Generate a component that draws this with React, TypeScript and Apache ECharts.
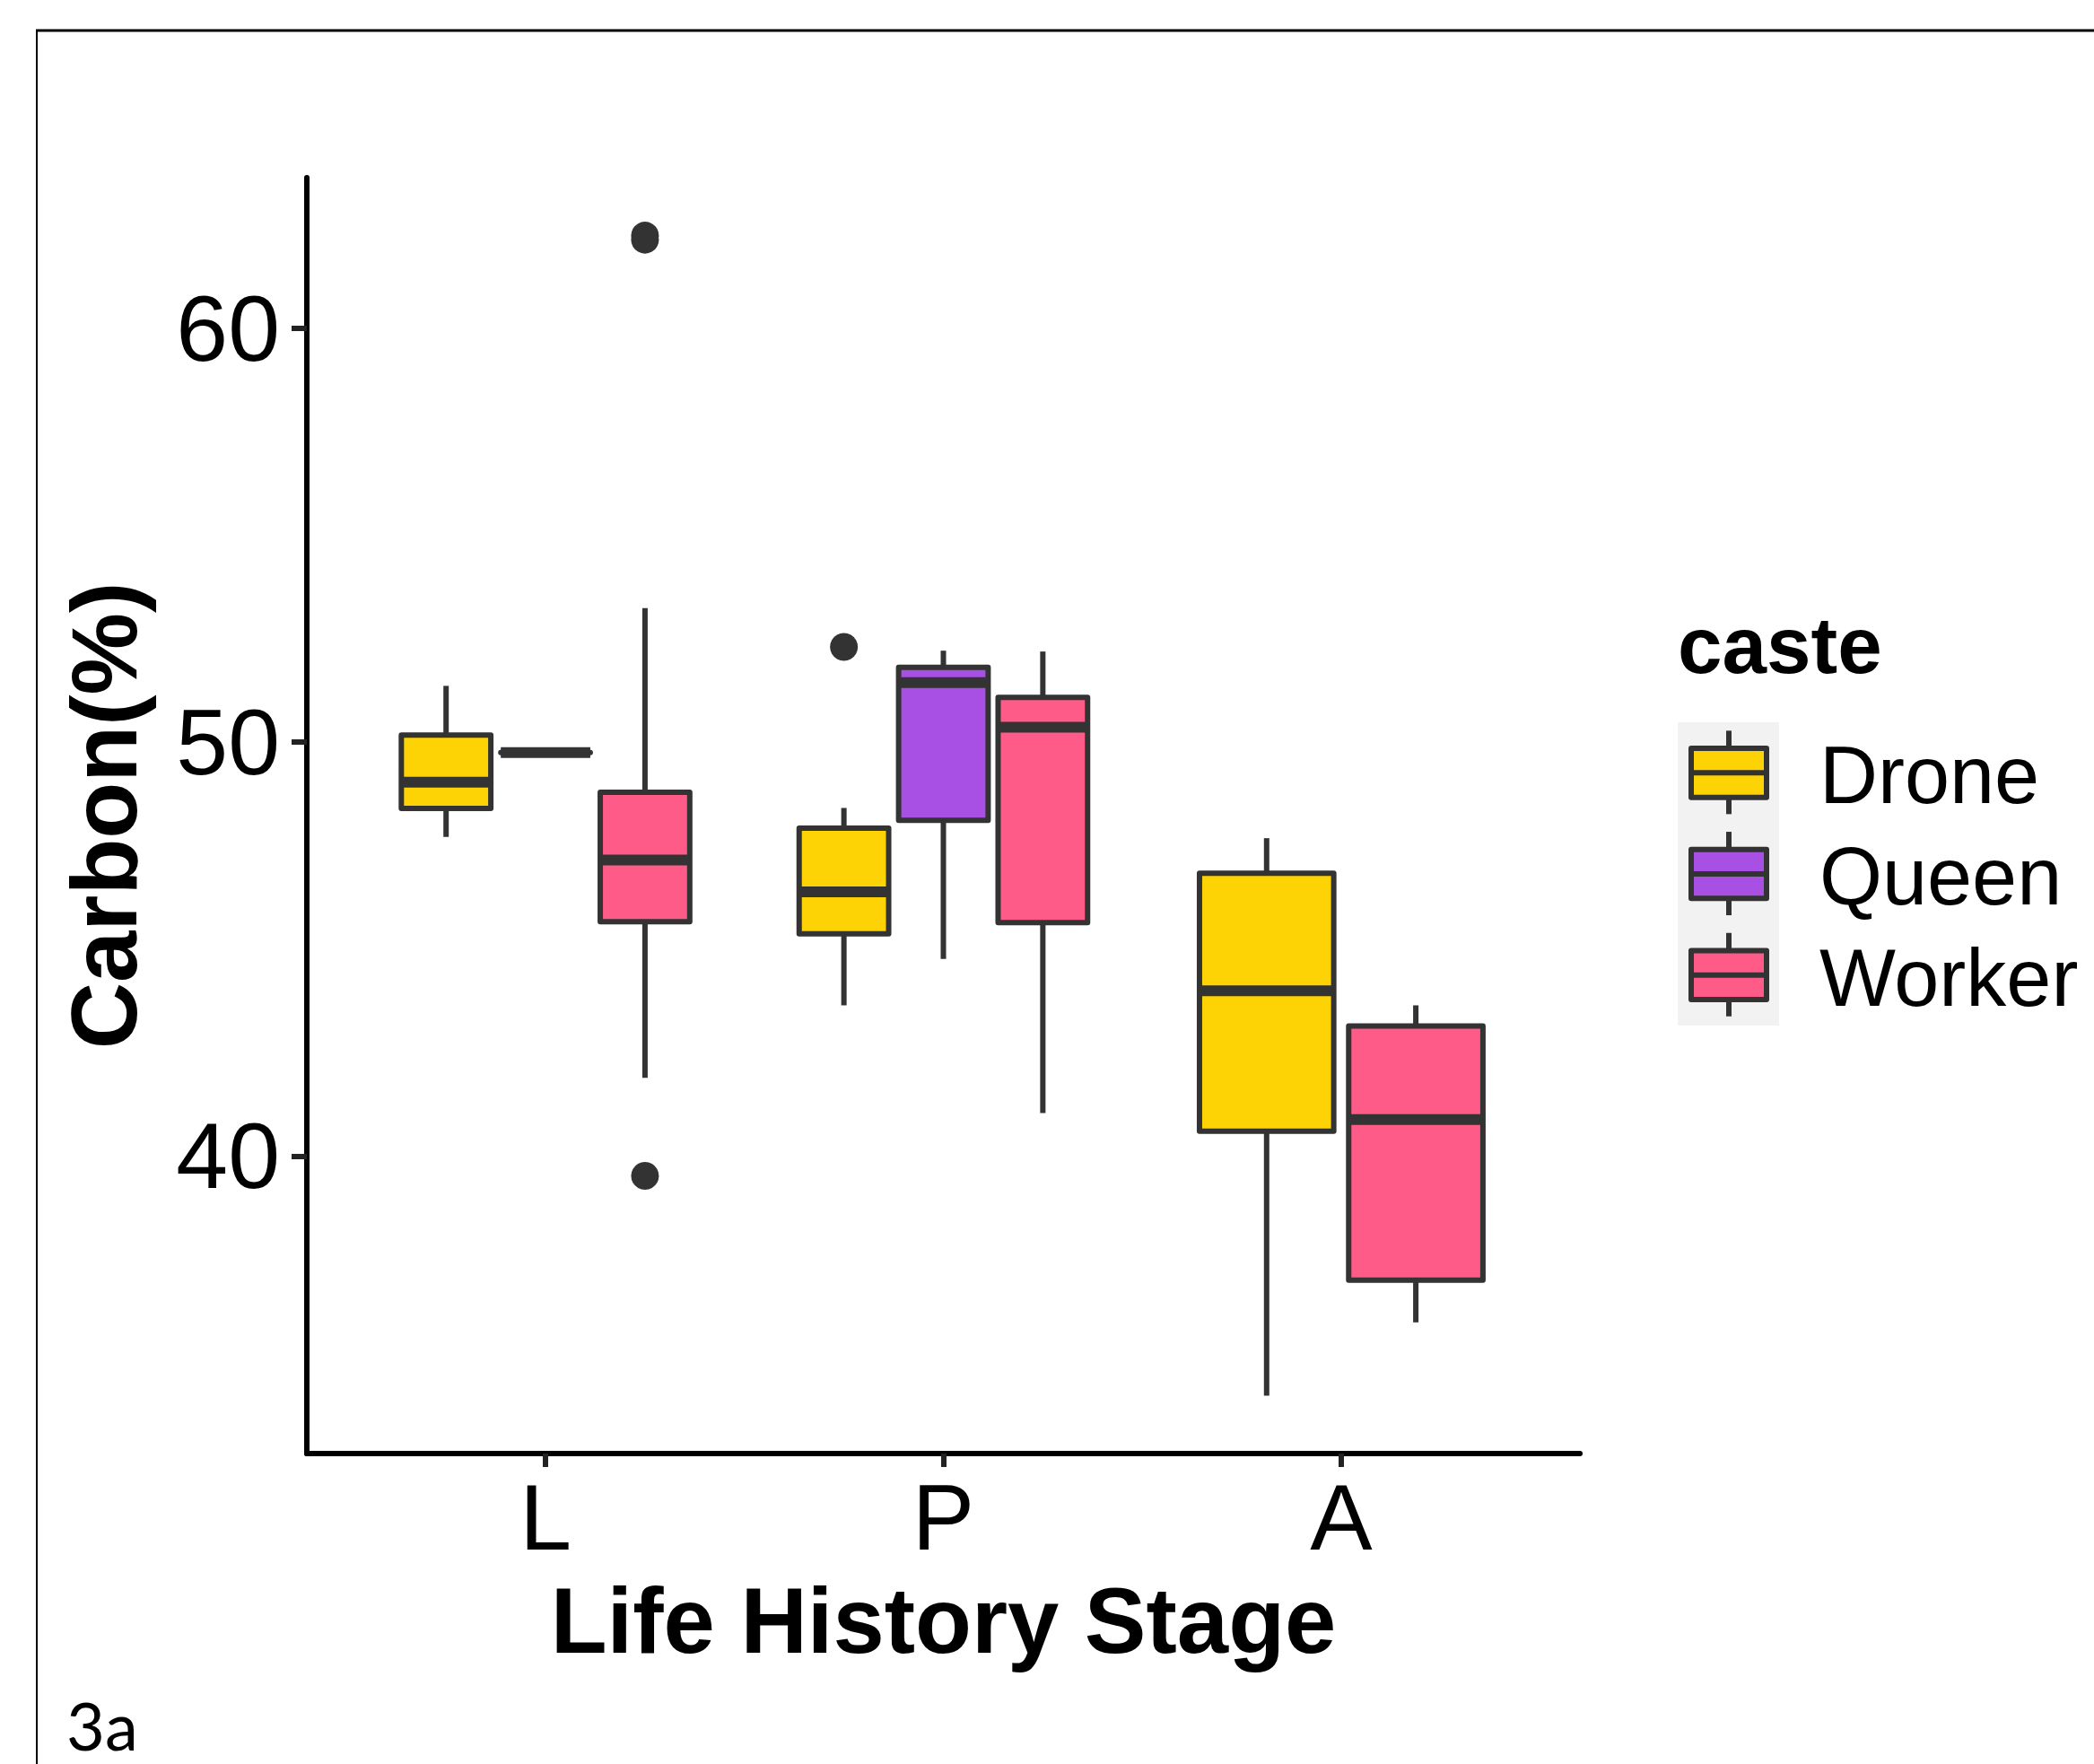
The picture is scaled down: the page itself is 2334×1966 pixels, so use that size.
import React, { useEffect, useRef } from 'react';
import * as echarts from 'echarts';

// ---- data ----
const stages = ['L', 'P', 'A'];
const castes = ['Drone', 'Queen', 'Worker'];
const casteColors = ['#FDD306', '#A750E3', '#FE5B89'];

// [min(whisker), Q1, median, Q3, max(whisker)] per stage; null = no data
const droneStats = [
  [47.71, 48.40, 49.03, 50.17, 51.36],
  [43.64, 45.37, 46.38, 47.92, 48.41],
  [34.21, 40.60, 43.99, 46.83, 47.68],
];
const queenStats = [
  [49.75, 49.75, 49.75, 49.75, 49.75],
  [44.76, 48.11, 51.44, 51.81, 52.21],
  null,
];
const workerStats = [
  [41.89, 45.66, 47.15, 48.79, 53.24],
  [41.04, 45.64, 50.36, 51.08, 52.19],
  [35.98, 37.00, 40.88, 43.14, 43.64],
];

const droneOutliers = [[], [52.3], []];
const queenOutliers = [[], [], []];
const workerOutliers = [[62.24, 62.14, 39.52], [], []];

const yTickValues = [40, 50, 60];
const xTickValues = [1, 2, 3];
const yMin = 32.81;
const yMax = 63.64;

const statsByCaste = [droneStats, queenStats, workerStats];
const outliersByCaste = [droneOutliers, queenOutliers, workerOutliers];

// ---- layout / style ----
const FONT = '"Liberation Sans", Arial, Helvetica, sans-serif';
const LINE = '#333333';
const DODGE = 0.75;
const BOX_FRAC = 0.9;

function position(stageIdx: number, casteIdx: number) {
  const present = castes
    .map((_, c) => c)
    .filter((c) => statsByCaste[c][stageIdx] != null);
  const n = present.length;
  const k = present.indexOf(casteIdx);
  const slot = DODGE / n;
  return { x: stageIdx + 1 + (k - (n - 1) / 2) * slot, w: slot * BOX_FRAC };
}

function buildOption() {
  const boxSeries = castes.map((caste, ci) => {
    const color = casteColors[ci];
    const data: number[][] = [];
    statsByCaste[ci].forEach((st, si) => {
      if (!st) return;
      const p = position(si, ci);
      data.push([p.x, st[0], st[1], st[2], st[3], st[4], p.w]);
    });
    return {
      type: 'custom',
      name: caste,
      z: 2,
      itemStyle: { color },
      encode: { x: 0, y: [1, 2, 3, 4, 5] },
      data,
      renderItem: (params: any, api: any) => {
        const x = api.value(0);
        const w = api.value(6);
        const pMin = api.coord([x, api.value(1)]);
        const pQ1 = api.coord([x, api.value(2)]);
        const pMed = api.coord([x, api.value(3)]);
        const pQ3 = api.coord([x, api.value(4)]);
        const pMax = api.coord([x, api.value(5)]);
        const cx = pMed[0];
        const half = api.size([w, 0])[0] / 2;
        return {
          type: 'group',
          children: [
            {
              type: 'line',
              shape: { x1: cx, y1: pQ3[1], x2: cx, y2: pMax[1] },
              style: { stroke: LINE, lineWidth: 6 },
            },
            {
              type: 'line',
              shape: { x1: cx, y1: pQ1[1], x2: cx, y2: pMin[1] },
              style: { stroke: LINE, lineWidth: 6 },
            },
            {
              type: 'rect',
              shape: { x: cx - half, y: pQ3[1], width: half * 2, height: pQ1[1] - pQ3[1] },
              style: { fill: color, stroke: LINE, lineWidth: 6, lineJoin: 'round' },
            },
            {
              type: 'line',
              shape: { x1: cx - half, y1: pMed[1], x2: cx + half, y2: pMed[1] },
              style: { stroke: LINE, lineWidth: 12 },
            },
          ],
        };
      },
    };
  });

  const outlierData: number[][] = [];
  outliersByCaste.forEach((perStage, ci) => {
    perStage.forEach((vals, si) => {
      if (!vals.length) return;
      const p = position(si, ci);
      vals.forEach((v) => outlierData.push([p.x, v]));
    });
  });

  const outlierSeries = {
    type: 'scatter',
    name: 'outliers',
    z: 3,
    symbol: 'circle',
    symbolSize: 31,
    itemStyle: { color: LINE, opacity: 1 },
    data: outlierData,
  };

  // legend (ggplot style keys) built as graphic elements
  const keyTop = 805;
  const keyH = 112.7;
  const legendEls: any[] = [
    {
      type: 'rect',
      shape: { x: 1870, y: keyTop, width: 113, height: keyH * castes.length },
      style: { fill: '#F2F2F2' },
      silent: true,
    },
    {
      type: 'text',
      x: 1870,
      y: 719,
      style: {
        text: 'caste',
        font: `bold 89px ${FONT}`,
        fill: '#000',
        align: 'left',
        verticalAlign: 'middle',
      },
    },
  ];
  castes.forEach((caste, i) => {
    const cy = keyTop + keyH * (i + 0.5);
    legendEls.push(
      {
        type: 'line',
        shape: { x1: 1927, y1: cy - 47, x2: 1927, y2: cy + 46 },
        style: { stroke: LINE, lineWidth: 6 },
      },
      {
        type: 'rect',
        shape: { x: 1885, y: cy - 27.3, width: 84, height: 54.6 },
        style: { fill: casteColors[i], stroke: LINE, lineWidth: 6, lineJoin: 'round' },
      },
      {
        type: 'line',
        shape: { x1: 1885, y1: cy, x2: 1969, y2: cy },
        style: { stroke: LINE, lineWidth: 6 },
      },
      {
        type: 'text',
        x: 2028,
        y: cy + 3,
        style: {
          text: caste,
          font: `90px ${FONT}`,
          fill: '#000',
          align: 'left',
          verticalAlign: 'middle',
        },
      }
    );
  });

  const frameEls = [
    { type: 'line', shape: { x1: 40, y1: 34, x2: 2334, y2: 34 }, style: { stroke: '#000', lineWidth: 3 } },
    { type: 'line', shape: { x1: 41, y1: 33, x2: 41, y2: 1966 }, style: { stroke: '#000', lineWidth: 2 } },
    {
      type: 'text',
      x: 74,
      y: 1922,
      style: {
        text: '3a',
        font: '74px Lato, "Open Sans", sans-serif',
        lineHeight: 74,
        fill: '#000',
        align: 'left',
        verticalAlign: 'middle',
      },
    },
  ];

  return {
    animation: false,
    backgroundColor: '#ffffff',
    grid: {
      left: 342,
      top: 198,
      width: 1419,
      height: 1422,
      containLabel: false,
      outerBoundsMode: 'none',
    },
    xAxis: {
      type: 'value',
      min: 0.4,
      max: 3.6,
      name: 'Life History Stage',
      nameLocation: 'middle',
      nameGap: 135,
      nameMoveOverlap: false,
      nameTextStyle: { fontFamily: FONT, fontSize: 103, fontWeight: 'bold', color: '#000' },
      axisLine: { show: true, onZero: false, lineStyle: { color: '#000', width: 6 } },
      axisTick: { show: true, customValues: xTickValues, length: 15, lineStyle: { color: '#222', width: 6 } },
      axisLabel: {
        customValues: xTickValues,
        formatter: (v: number) => stages[Math.round(v) - 1] ?? '',
        margin: 19,
        fontSize: 104,
        fontFamily: FONT,
        color: '#000',
      },
      splitLine: { show: false },
    },
    yAxis: {
      type: 'value',
      min: yMin,
      max: yMax,
      name: 'Carbon(%)',
      nameLocation: 'middle',
      nameGap: 174,
      nameMoveOverlap: false,
      nameTextStyle: { fontFamily: FONT, fontSize: 103, fontWeight: 'bold', color: '#000' },
      axisLine: { show: true, onZero: false, lineStyle: { color: '#000', width: 6 } },
      axisTick: { show: true, customValues: yTickValues, length: 17, lineStyle: { color: '#222', width: 6 } },
      axisLabel: {
        customValues: yTickValues,
        margin: 30,
        fontSize: 104,
        fontFamily: FONT,
        color: '#000',
      },
      splitLine: { show: false },
    },
    series: [...boxSeries, outlierSeries],
    graphic: { elements: [...frameEls, ...legendEls] },
  };
}

export default function App() {
  const ref = useRef<HTMLDivElement>(null);
  useEffect(() => {
    document.body.style.margin = '0';
    document.body.style.overflow = 'hidden';
    if (!ref.current) return;
    const chart = echarts.init(ref.current, null, { renderer: 'svg' });
    chart.setOption(buildOption() as any);
    return () => chart.dispose();
  }, []);
  return <div ref={ref} style={{ width: 2334, height: 1966, background: '#fff' }} />;
}
